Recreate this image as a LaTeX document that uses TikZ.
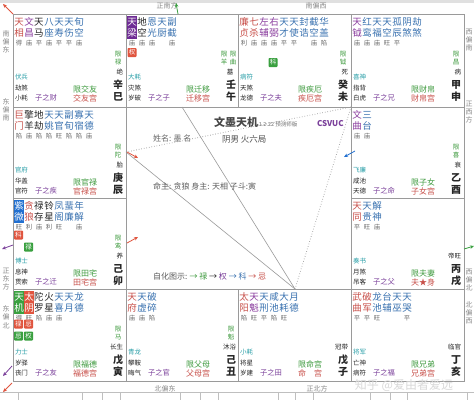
\documentclass[tikz,border=0pt]{standalone}
\usepackage{fontspec}
\setmainfont{Noto Sans CJK SC}
\usetikzlibrary{arrows.meta}
\definecolor{mr}{HTML}{C8504A}
\definecolor{pu}{HTML}{8A3C9E}
\definecolor{bl}{HTML}{3A72B0}
\definecolor{dk}{HTML}{262626}
\definecolor{gt}{HTML}{6A6A6A}
\definecolor{tl}{HTML}{2A9FA8}
\definecolor{gr}{HTML}{3E9A3E}
\definecolor{zp}{HTML}{7A3F9A}
\definecolor{hlp}{HTML}{6E2C94}
\definecolor{hlb}{HTML}{2270D0}
\definecolor{hlg}{HTML}{3AA040}
\definecolor{hlr}{HTML}{E0553F}
\definecolor{ln}{HTML}{9A9A9A}
\definecolor{dir}{HTML}{8A8A8A}
\newcommand\starrow[3]{%
  \foreach \sa/\sb/\sr/\sc [count=\si from 0] in {#3}{
    \node[st,text=\sc] at ({#1+6+10*\si},{#2+8}) {\sa};
    \node[st,text=\sc] at ({#1+6+10*\si},{#2+19}) {\sb};
    \node[br] at ({#1+6+10*\si},{#2+29}) {\sr};
  }}
\newcommand\hlbox[3]{\fill[#3] ({#1+1},{#2+2}) rectangle ({#1+11},{#2+25});}
\newcommand\hua[4]{\node[huabox,fill=#3] at (#1,#2) {#4};}
\newcommand\rightcol[6]{%
  \node[sm,text=gr,align=center] at ({#1+105},{#2+44}) {#3};
  \node[sm,text=dk,anchor=east] at ({#1+110},{#2+58}) {#4};
  \node[gz] at ({#1+105},{#2+71}) {#5};
  \node[gz] at ({#1+105},{#2+83}) {#6};}
\newcommand\botleft[8]{%
  \node[sm,text=tl,anchor=west] at ({#1+2},{#2+63}) {#3};
  \node[sm,text=dk,anchor=west] at ({#1+2},{#2+74}) {#4};
  \node[sm,text=dk,anchor=west] at ({#1+2},{#2+84}) {#5};
  \node[zz] at ({#1+33},{#2+84}) {#6};
  \node[xx] at ({#1+72},{#2+75}) {#7};
  \node[gg] at ({#1+72},{#2+84}) {#8};}
\begin{document}
\begin{tikzpicture}[x=1pt,y=-1pt,
  every node/.style={inner sep=0pt,outer sep=0pt},
  st/.style={font=\fontsize{9.5}{9.5}\selectfont},
  br/.style={font=\fontsize{6.3}{6.3}\selectfont,text=gt},
  sm/.style={font=\fontsize{6.5}{8.5}\selectfont},
  gz/.style={font=\fontsize{10}{10}\selectfont\bfseries,text=dk},
  zz/.style={font=\fontsize{7.3}{7.3}\selectfont,text=zp},
  xx/.style={font=\fontsize{8}{8}\selectfont,text=gr},
  gg/.style={font=\fontsize{8}{8}\selectfont,text=mr},
  huabox/.style={font=\fontsize{6.5}{6.5}\selectfont,text=white,minimum width=9pt,minimum height=9pt,rounded corners=0.8pt},
  dirl/.style={font=\fontsize{7}{8.3}\selectfont,text=dir,align=center},
  grid/.style={draw=ln,line width=0.8pt},
  tri/.style={draw=ln,line width=0.6pt},
  arr/.style={-{Stealth[length=4pt,width=3.5pt]},line width=0.8pt}]
\useasboundingbox (0,0) rectangle (474,400);
\fill[white] (0,0) rectangle (474,400);
\fill[black!12] (0,0) rectangle (474,2.5);
% bottom strip
\draw[black!25,line width=0.6pt] (0,392.5) -- (474,392.5);
\foreach \bx in {18,82,102,120,180,200,218,278,295,313,370,390,407,467}{\draw[black!25,line width=0.6pt] (\bx,392.5) -- (\bx,400);}
% grid
\node[grid,minimum width=451pt,minimum height=367pt,anchor=north west] (frame) at (13,14) {};
\draw[grid] (126,14) -- (126,381);
\draw[grid] (351,14) -- (351,381);
\draw[grid] (238,14) -- (238,107);
\draw[grid] (238,289) -- (238,381);
\draw[grid] (13,107) -- (464,107);
\draw[grid] (13,289) -- (464,289);
\draw[grid] (13,198) -- (126,198);
\draw[grid] (351,198) -- (464,198);
% direction labels
\node[dirl] (d1) at (167,6) {正南方};
\node[dirl] (d2) at (316,6) {南偏西};
\node[dirl] (d3) at (6,42) {南\\偏\\东};
\node[dirl] (d4) at (6,110) {东\\偏\\南};
\node[dirl] (d5) at (6,279) {正\\东\\方};
\node[dirl] (d6) at (6,317) {东\\偏\\北};
\node[dirl] (d7) at (469,40) {西\\偏\\南};
\node[dirl] (d8) at (469,112) {正\\西\\方};
\node[dirl] (d9) at (469,280) {西\\偏\\北};
\node[dirl] (d10) at (469,313) {北\\偏\\西};
\node[dirl] (d11) at (165,389) {北偏东};
\node[dirl] (d12) at (317,389) {正北方};
% ===== 巳
\starrow{13}{14}{天/相/得/mr,文/昌/庙/pu,天/马/平/dk,八/座/庙/bl,天/寿/平/bl,天/伤/平/bl,旬/空/庙/bl}
\rightcol{13}{14}{限\\禄}{绝}{辛}{巳}
\botleft{13}{14}{伏兵}{劫煞}{小耗}{子之财}{限交友}{交友宫}
% ===== 午
\hlbox{126}{14}{hlp}
\starrow{126}{14}{天/梁/庙/white,地/空/庙/dk,恩/光/庙/bl,天/厨//bl,副/截/庙/bl}
\hua{132}{52.5}{hlr}{权}
\node[sm,text=gr,align=center] at (224,58) {限\\羊};
\node[sm,text=gr,align=center] at (233,58) {限\\曲};
\node[sm,text=dk] at (230,72) {墓};
\node[gz] at (231,85) {壬};
\node[gz] at (231,97) {午};
\botleft{126}{14}{大耗}{灾煞}{岁破}{子之子}{限迁移}{迁移宫}
% ===== 未
\starrow{238}{14}{廉/贞/利/mr,七/杀/庙/mr,左/辅/庙/pu,右/弼/庙/pu,天/才/平/bl,天/使/平/bl,封/诰//bl,截/空/庙/bl,华/盖/陷/bl}
\hua{273}{62.5}{hlg}{科}
\rightcol{238}{14}{限\\钺}{死}{癸}{未}
\botleft{238}{14}{病符}{天煞}{龙德}{子之夫}{限疾厄}{疾厄宫}
% ===== 申
\starrow{351}{14}{天/钺/庙/pu,红/鸾/庙/bl,天/福/庙/bl,天/空/旺/bl,孤/辰/平/bl,阴/煞//bl,劫/煞//bl}
\rightcol{351}{14}{限\\昌}{病}{甲}{申}
\botleft{351}{14}{喜神}{指背}{白虎}{子之兄}{限财帛}{财帛宫}
% ===== 辰
\starrow{13}{107}{巨/门/陷/mr,擎/羊/庙/dk,地/劫/陷/dk,天/姚/陷/bl,天/官/旺/bl,副/旬/陷/bl,寡/宿/陷/bl,天/德/庙/bl}
\rightcol{13}{107}{限\\陀}{胎}{庚}{辰}
\botleft{13}{107}{官府}{华盖}{官符}{子之疾}{限官禄}{官禄宫}
% ===== 酉
\starrow{351}{107}{文/曲/庙/pu,三/台/庙/bl}
\rightcol{351}{107}{限\\喜}{衰}{乙}{酉}
\botleft{351}{107}{飞廉}{咸池}{天德}{子之命}{限子女}{子女宫}
% ===== 卯
\hlbox{13}{198}{hlb}
\starrow{13}{198}{紫/微/旺/white,贪/狼/利/mr,禄/存/庙/dk,铃/星/利/dk,凤/阁/旺/bl,蜚/廉//bl,年/解/庙/bl}
\hua{18.5}{235}{hlr}{科}
\hua{28.5}{247}{hlg}{禄}
\rightcol{13}{198}{限\\鸾}{养}{己}{卯}
\botleft{13}{198}{博士}{息神}{贯索}{子之迁}{限田宅}{田宅宫}
% ===== 戌
\starrow{351}{198}{天/同/平/mr,天/贵/旺/bl,解/神/庙/bl}
\rightcol{351}{198}{}{帝旺}{丙}{戌}
\botleft{351}{198}{奏书}{月煞}{吊客}{子之父}{限夫妻}{夫★身}
% ===== 寅
\hlbox{13}{289}{hlg}
\fill[hlr] (24,291) rectangle (34,314);
\starrow{13}{289}{天/机/得/white,太/阴/旺/white,陀/罗/陷/dk,火/星/庙/dk,天/喜/庙/bl,天/月//bl,龙/德//bl}
\hua{18.5}{324}{hlr}{禄}
\hua{28.5}{324}{hlr}{忌}
\hua{18.5}{336}{hlg}{忌}
\hua{28.5}{336}{hlg}{权}
\rightcol{13}{289}{限\\马}{长生}{戊}{寅}
\botleft{13}{289}{力士}{岁驿}{丧门}{子之友}{限福德}{福德宫}
% ===== 丑
\starrow{126}{289}{天/府/庙/mr,天/虚/庙/bl,破/碎/陷/bl}
\rightcol{126}{289}{限\\魁}{沐浴}{己}{丑}
\botleft{126}{289}{青龙}{攀鞍}{晦气}{子之官}{限父母}{父母宫}
% ===== 子
\starrow{238}{289}{太/阳/陷/mr,天/魁/旺/pu,天/刑/平/bl,咸/池/陷/bl,大/耗/旺/bl,月/德//bl}
\rightcol{238}{289}{}{冠带}{戊}{子}
\botleft{238}{289}{小耗}{将星}{岁建}{子之田}{限命宫}{命\hspace{1em}宫}
% ===== 亥
\starrow{351}{289}{武/曲/平/mr,破/军/平/mr,龙/池/旺/bl,台/辅//bl,天/巫//bl,天/哭/平/bl}
\rightcol{351}{289}{}{临官}{丁}{亥}
\botleft{351}{289}{将军}{亡神}{病符}{子之福}{限兄弟}{兄弟宫}
% ===== center lines
\coordinate (ming) at (295,289);
\coordinate (wu) at (182,107);
\coordinate (chen) at (126,152);
\coordinate (shen) at (351,107);
\draw[tri] (wu) -- (ming);
\draw[tri] (chen) -- (ming);
\draw[tri,dotted,line width=0.8pt] (chen) -- (shen);
\draw[tri,dotted,line width=0.8pt] (shen) -- (ming);
% center text
\node[font=\fontsize{11}{11}\selectfont\bfseries,text=dk!85] (title) at (236,122) {文墨天机};
\node[font=\fontsize{5.5}{5.5}\selectfont,text=gt,anchor=west] (ver) at (257,124) {-1.2.22 预测师版};
\node[font=\fontsize{8}{8}\selectfont\bfseries,text=zp,anchor=west] (cs) at (317,124) {CSVUC};
\node[font=\fontsize{8}{8}\selectfont,text=gt,anchor=west] (name) at (153,138) {姓名: 墨 名};
\node[font=\fontsize{8.5}{8.5}\selectfont,text=dk!80,anchor=west] (yin) at (222,139) {阴男 火六局};
\node[font=\fontsize{8}{8}\selectfont,text=dk!75,anchor=west] (mz) at (153,186) {命主: 贪狼 身主: 天相 子斗:寅};
\node[font=\fontsize{8}{8}\selectfont,text=dk!75,anchor=west] (leg) at (153,276) {自化图示: \textcolor{gr}{→ 禄} \textcolor{dk}{→} \textcolor{zp}{权} \textcolor{bl}{→ 科} \textcolor{mr}{→ 忌}};
% self-transform arrows
\draw[arr,hlr] (127,152) -- (138,158);
\draw[arr,hlr] (127,243) -- (138,237);
\draw[arr,hlb] (355,151) -- (344,157);
\draw[arr,hlr] (13,14) -- (3,4);
\draw[arr,hlg] (178,14) -- (176,3);
\draw[arr,zp] (13,245) -- (2,249);
\draw[arr,zp] (12,366) -- (3,376);
\draw[arr,hlr] (12,383) -- (3,392);
\draw[arr,hlg] (464,249) -- (474,246);
% watermark
\node[font=\fontsize{12}{12}\selectfont,text=black!15] (wm) at (404,385) {知乎 @爱由者爱远};
\end{tikzpicture}
\end{document}
